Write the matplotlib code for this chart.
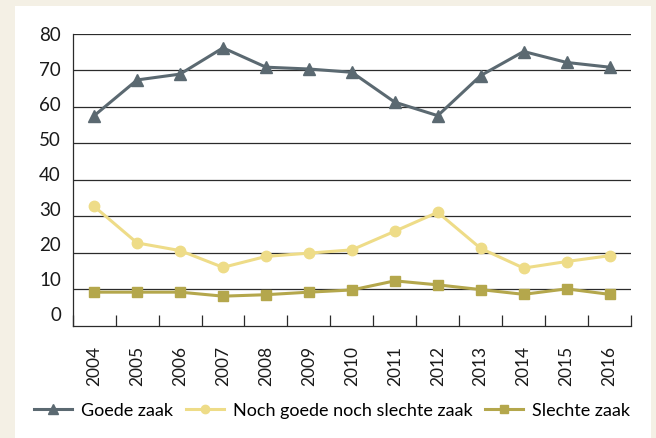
import numpy as np
import matplotlib
matplotlib.use("Agg")
import matplotlib.pyplot as plt
from matplotlib.patches import Rectangle
from matplotlib.transforms import ScaledTranslation

# Gegevens
jaren = ["2004", "2005", "2006", "2007", "2008", "2009", "2010",
         "2011", "2012", "2013", "2014", "2015", "2016"]
goede_zaak = [57.6, 67.4, 69.0, 76.2, 70.9, 70.4, 69.5, 61.3, 57.6, 68.6, 75.2, 72.2, 70.9]
noch_noch = [32.7, 22.7, 20.6, 16.0, 19.0, 19.9, 20.8, 25.9, 31.1, 21.2, 15.8, 17.6, 19.2]
slechte_zaak = [9.2, 9.2, 9.2, 8.1, 8.5, 9.2, 9.8, 12.3, 11.2, 9.9, 8.6, 10.1, 8.6]

series_namen = ["Goede zaak", "Noch goede noch slechte zaak", "Slechte zaak"]
y_ticks = [0, 10, 20, 30, 40, 50, 60, 70, 80]

KLEUREN = ["#5B6971", "#EEDC88", "#B4A74C"]
MARKERS = ["^", "o", "s"]

plt.rcParams["font.family"] = ["Lato", "DejaVu Sans"]

W, H = 656, 439
fig = plt.figure(figsize=(W / 100, H / 100), dpi=100)
fig.patch.set_facecolor("#F4F0E5")
# wit paneel
fig.patches.append(Rectangle((15 / W, 0), 636 / W, (H - 7) / H,
                             transform=fig.transFigure, facecolor="white",
                             edgecolor="none", zorder=-5))

ax = fig.add_axes([72.7 / W, (H - 326.7) / H, (631 - 72.7) / W, (326.7 - 35) / H])
ax.set_facecolor("none")
ax.set_zorder(2)

x = np.arange(len(jaren))
for waarden, naam, kleur, mk, ms in zip([goede_zaak, noch_noch, slechte_zaak],
                                        series_namen, KLEUREN, MARKERS, [8.5, 7.5, 7.5]):
    ax.plot(x, waarden, color=kleur, marker=mk, markersize=ms, linewidth=2.2,
            label=naam, zorder=3, clip_on=False)

ax.set_xlim(-0.5, len(jaren) - 0.5)
ax.set_ylim(0, 80)
ax.set_yticks(y_ticks)
ax.tick_params(axis="y", length=0, pad=8.5, labelsize=13.5, colors="#1a1a1a")
for yv in y_ticks[1:]:
    ax.axhline(yv, color="#2b2b2b", linewidth=0.9, zorder=1)

# de aslabels staan iets dichter op elkaar dan de rasterlijnen
fig.canvas.draw()
for lbl, v in zip(ax.get_yticklabels(), y_ticks):
    dy = (1 + (80 - v) / 80 * 11.7) / 100
    lbl.set_transform(lbl.get_transform() + ScaledTranslation(0, dy, fig.dpi_scale_trans))

ax.set_xticks(x)
ax.set_xticklabels(jaren, rotation=90)
ax.tick_params(axis="x", which="major", length=0, pad=14, labelsize=12.5, colors="#1a1a1a")
ax.set_xticks(np.arange(-0.5, len(jaren)), minor=True)
ax.tick_params(axis="x", which="minor", direction="in", length=8, width=0.9, color="#2b2b2b")

for s in ["top", "right"]:
    ax.spines[s].set_visible(False)
for s in ["left", "bottom"]:
    ax.spines[s].set_color("#2b2b2b")
    ax.spines[s].set_linewidth(0.9)

fig.legend(loc="center", bbox_to_anchor=(332 / W, (H - 411) / H), ncol=3,
           frameon=False, fontsize=13.0, handlelength=2.1, columnspacing=0.7,
           handletextpad=0.5, markerscale=0.8)

fig.savefig("out.png", dpi=100, facecolor=fig.get_facecolor())
